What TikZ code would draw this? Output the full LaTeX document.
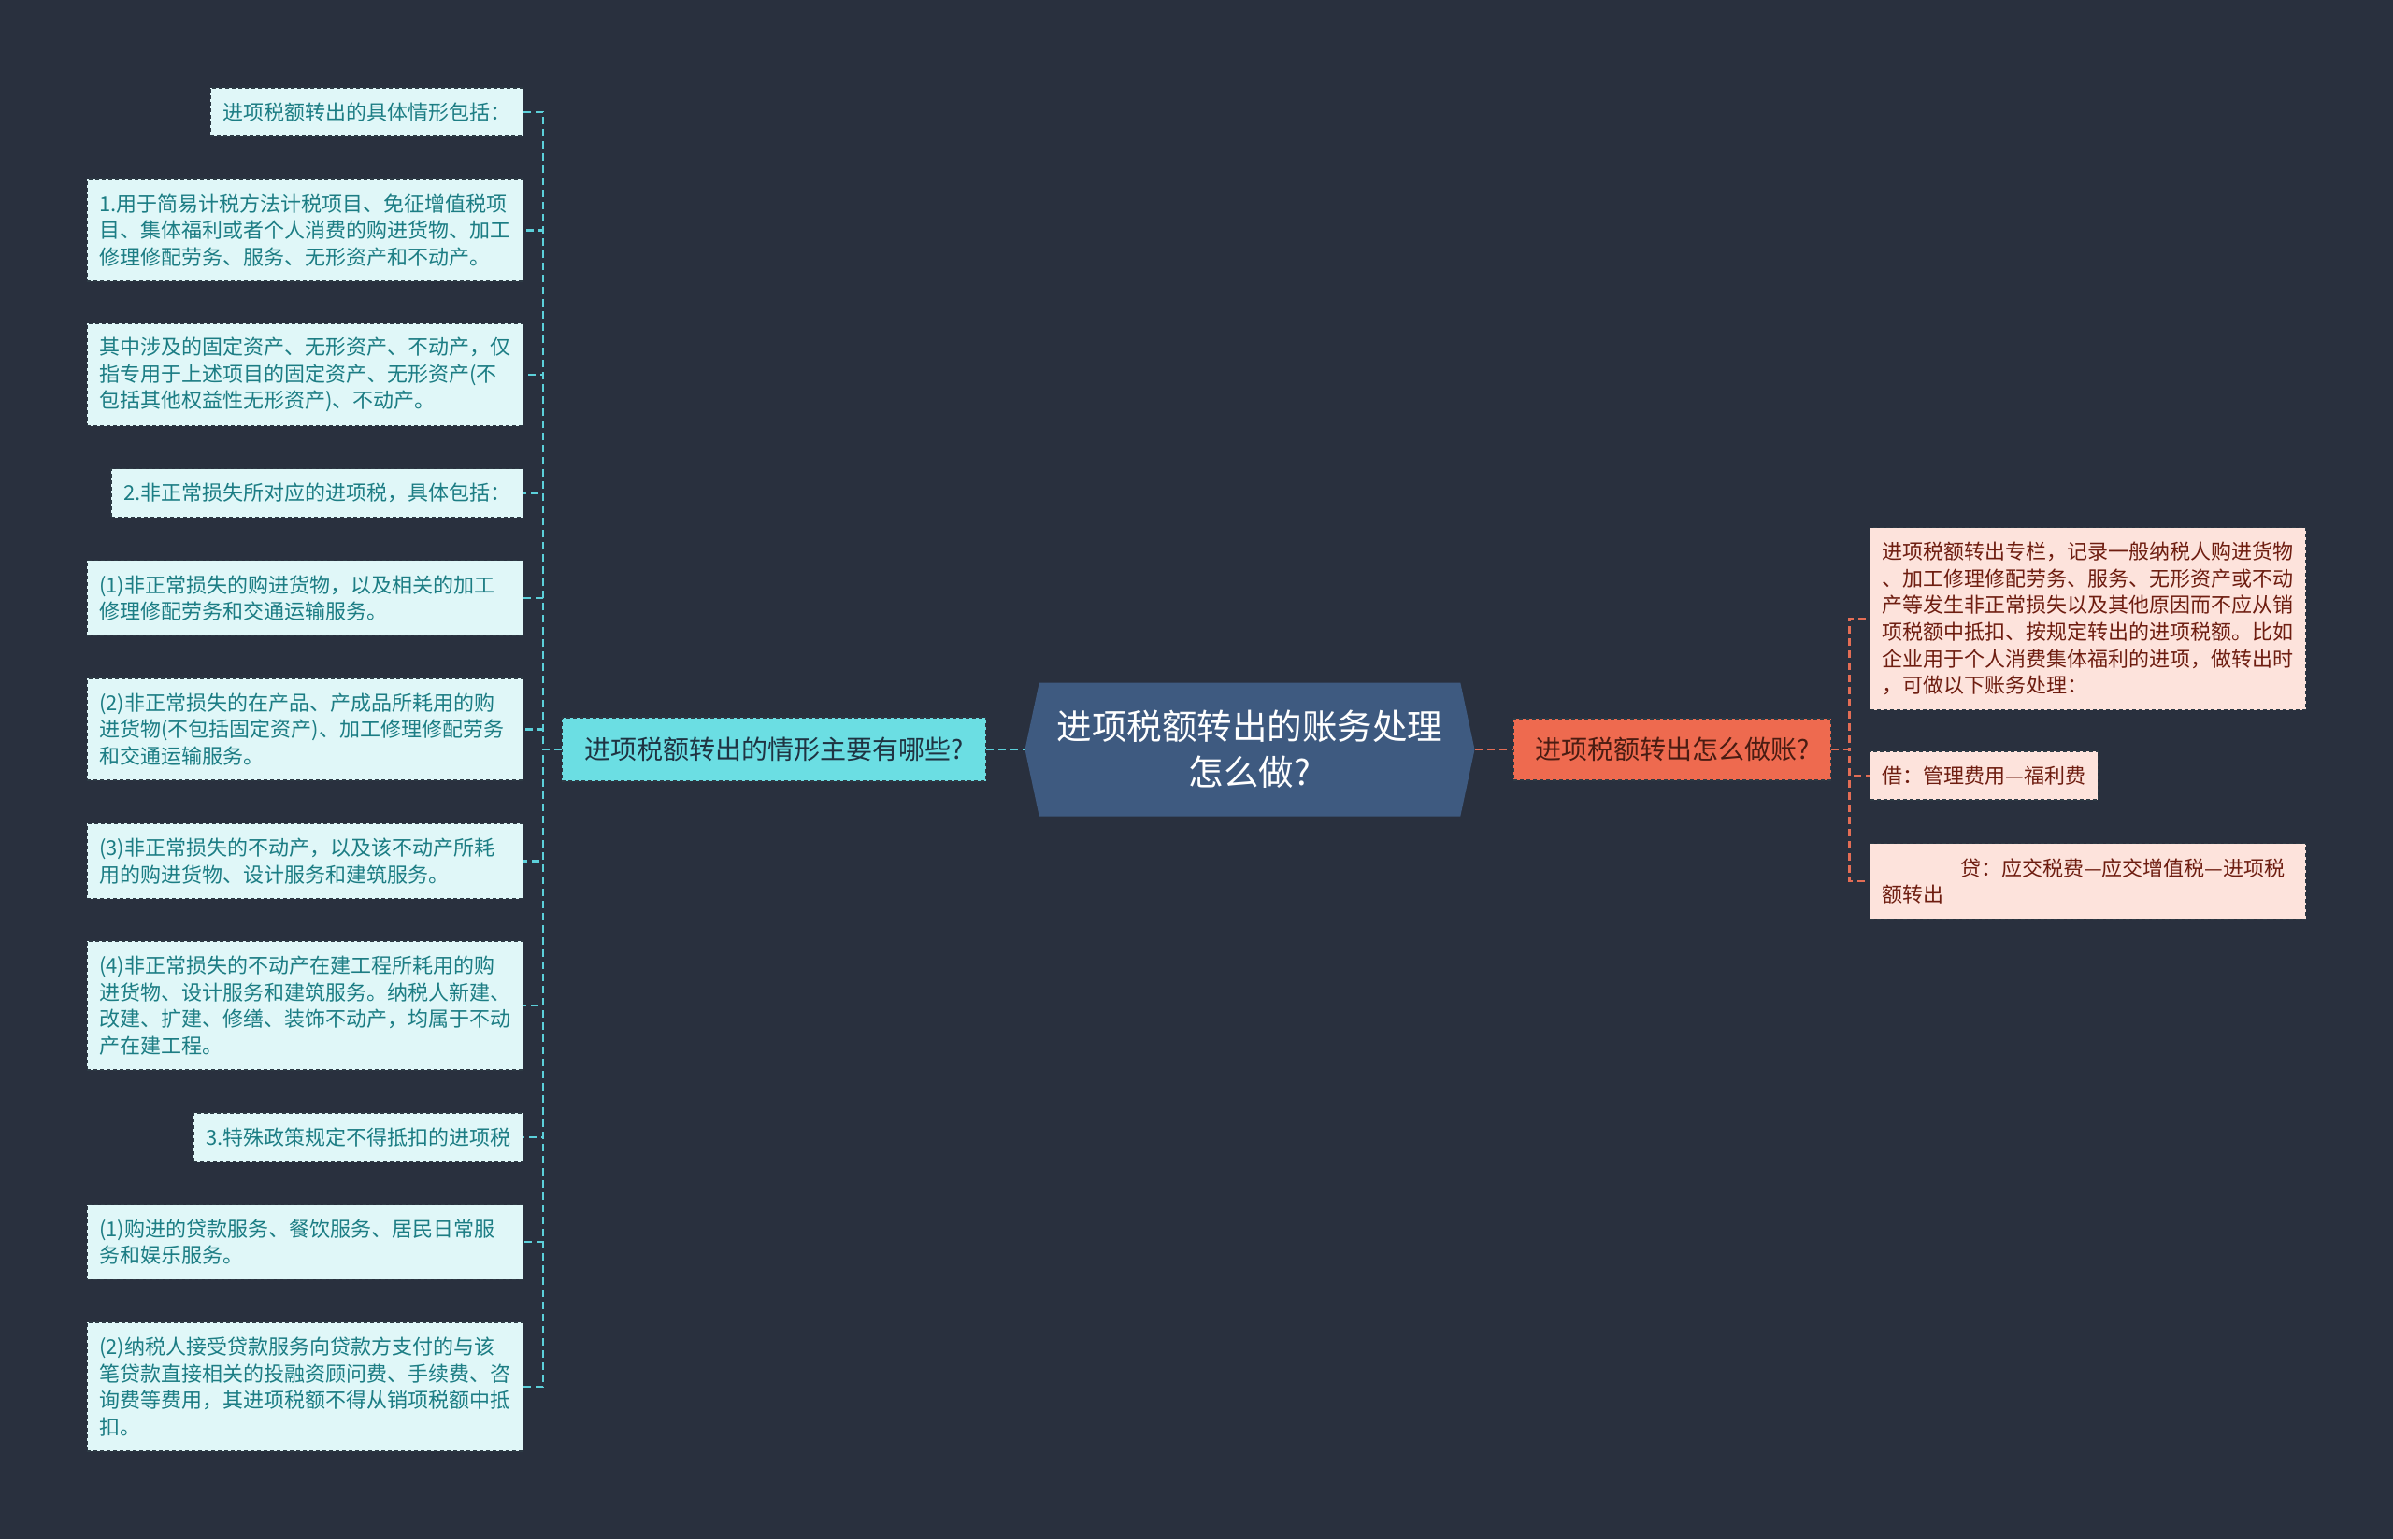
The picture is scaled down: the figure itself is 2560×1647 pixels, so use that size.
\documentclass[tikz,border=0pt]{standalone}
\usepackage{fontspec}
\setmainfont{Noto Sans CJK SC}
\usetikzlibrary{positioning,shapes.symbols}

\definecolor{bgcol}{HTML}{29303E}
\definecolor{leaffill}{HTML}{E0F7F8}
\definecolor{leaftext}{HTML}{1C7D84}
\definecolor{leafedge}{HTML}{2D3A44}
\definecolor{lmainfill}{HTML}{6BDEE3}
\definecolor{lmaintext}{HTML}{1F3342}
\definecolor{hubfill}{HTML}{3E5A80}
\definecolor{rmainfill}{HTML}{EE6A4F}
\definecolor{rmaintext}{HTML}{4A1C12}
\definecolor{rleaffill}{HTML}{FDE3DC}
\definecolor{rleaftext}{HTML}{6E1D10}
\definecolor{lline}{HTML}{5CD0DA}
\definecolor{rline}{HTML}{E36D55}

\tikzset{
  leaf/.style={draw=leafedge, dash pattern=on 4pt off 3pt, line width=1.3pt, fill=leaffill, text=leaftext, align=left, inner xsep=13pt, inner ysep=2pt, anchor=east, font=\fontsize{22pt}{28.6pt}\selectfont, minimum height={23.4+28.6*#1}},
  rleaf/.style={leaf=#1, fill=rleaffill, text=rleaftext, anchor=west},
  wide/.style={text width=440pt},
  lmainbox/.style={draw=leafedge, dash pattern=on 4pt off 3pt, line width=1.3pt, fill=lmainfill, text=lmaintext, inner xsep=24pt, minimum height=68pt, font=\fontsize{28pt}{34pt}\selectfont},
  rmainbox/.style={lmainbox, fill=rmainfill, text=rmaintext, inner xsep=23pt, minimum height=66pt},
  hubbox/.style={shape=signal, signal to=west and east, signal pointer angle=156, fill=hubfill, text=white, align=center, minimum width=481pt, minimum height=143pt, font=\fontsize{37.5pt}{49pt}\selectfont},
  ltree/.style={draw=lline, line width=2.4pt, dash pattern=on 8pt off 5pt},
  rtree/.style={draw=rline, line width=2.4pt, dash pattern=on 8pt off 5pt}
}

\begin{document}
\begin{tikzpicture}[x=1pt, y=-1pt]
  \fill[bgcol] (0,0) rectangle (2560,1647);

  % centre
  \node[hubbox] (hub) at (1337,802) {进项税额转出的账务处理\\怎么做?};
  \node[lmainbox] (lmain) at (828,802) {进项税额转出的情形主要有哪些?};
  \node[rmainbox] (rmain) at (1789,802) {进项税额转出怎么做账?};

  % left side
  \node[leaf=1] (l1) at (560,120) {进项税额转出的具体情形包括：};
  \node[leaf=3, wide] (l2) at (560,246.5) {1.用于简易计税方法计税项目、免征增值税项\\目、集体福利或者个人消费的购进货物、加工\\修理修配劳务、服务、无形资产和不动产。};
  \node[leaf=3, wide] (l3) at (560,401) {其中涉及的固定资产、无形资产、不动产，仅\\指专用于上述项目的固定资产、无形资产(不\\包括其他权益性无形资产)、不动产。};
  \node[leaf=1] (l4) at (560,527.5) {2.非正常损失所对应的进项税，具体包括：};
  \node[leaf=2, wide] (l5) at (560,640) {(1)非正常损失的购进货物，以及相关的加工\\修理修配劳务和交通运输服务。};
  \node[leaf=3, wide] (l6) at (560,780.5) {(2)非正常损失的在产品、产成品所耗用的购\\进货物(不包括固定资产)、加工修理修配劳务\\和交通运输服务。};
  \node[leaf=2, wide] (l7) at (560,921.5) {(3)非正常损失的不动产，以及该不动产所耗\\用的购进货物、设计服务和建筑服务。};
  \node[leaf=4, wide] (l8) at (560,1076) {(4)非正常损失的不动产在建工程所耗用的购\\进货物、设计服务和建筑服务。纳税人新建、\\改建、扩建、修缮、装饰不动产，均属于不动\\产在建工程。};
  \node[leaf=1] (l9) at (560,1217) {3.特殊政策规定不得抵扣的进项税};
  \node[leaf=2, wide] (l10) at (560,1329) {(1)购进的贷款服务、餐饮服务、居民日常服\\务和娱乐服务。};
  \node[leaf=4, wide] (l11) at (560,1484) {(2)纳税人接受贷款服务向贷款方支付的与该\\笔贷款直接相关的投融资顾问费、手续费、咨\\询费等费用，其进项税额不得从销项税额中抵\\扣。};

  % right side
  \node[rleaf=6, wide] (r1) at (2000,662) {进项税额转出专栏，记录一般纳税人购进货物\\、加工修理修配劳务、服务、无形资产或不动\\产等发生非正常损失以及其他原因而不应从销\\项税额中抵扣、按规定转出的进项税额。比如\\企业用于个人消费集体福利的进项，做转出时\\，可做以下账务处理：};
  \node[rleaf=1] (r2) at (2000,830) {借：管理费用—福利费};
  \node[rleaf=2, wide] (r3) at (2000,943) {\hspace*{3.8em}贷：应交税费—应交增值税—进项税\\额转出};

  % connectors
  \draw[ltree] (lmain.east) -- (hub.west);
  \draw[rtree] (hub.east) -- (rmain.west);
  \foreach \n in {1,...,11}
    \draw[ltree] (lmain.west) -- ++(-20,0) |- (l\n.east);
  \foreach \n in {1,2,3}
    \draw[rtree] (rmain.east) -- ++(19,0) |- (r\n.west);
\end{tikzpicture}
\end{document}
